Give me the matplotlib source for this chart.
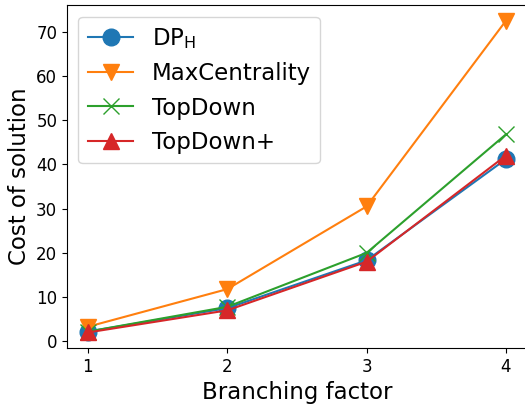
import numpy as np
import matplotlib.pyplot as plt

# cost of solution vs branching factor
branching = [1, 2, 3, 4]
dp_h = [2.2, 7.5, 18.3, 41.2]
max_centrality = [3.3, 11.8, 30.5, 72.5]
top_down = [2.2, 7.8, 20.0, 46.8]
top_down_plus = [2.0, 7.0, 18.0, 42.0]

fig = plt.figure(figsize=(5.25, 4.09), dpi=100)
ax = fig.add_axes([0.1276, 0.149, 0.876, 0.8386])

ax.plot(branching, dp_h, "-o", color="tab:blue", markersize=12, label=r"DP$_{\rm H}$")
ax.plot(branching, max_centrality, "-v", color="tab:orange", markersize=12, label="MaxCentrality")
ax.plot(branching, top_down, "-x", color="tab:green", markersize=12, label="TopDown")
ax.plot(branching, top_down_plus, "-^", color="tab:red", markersize=12, label="TopDown+")

ax.set_xticks(branching)
ax.set_yticks(np.arange(0, 80, 10))
ax.tick_params(labelsize=12)

ax.set_xlabel("Branching factor", fontsize=16.5)
ax.set_ylabel("Cost of solution", fontsize=16.5)
ax.legend(loc="upper left", fontsize=16.5)

fig.savefig("out.png", dpi=100)
